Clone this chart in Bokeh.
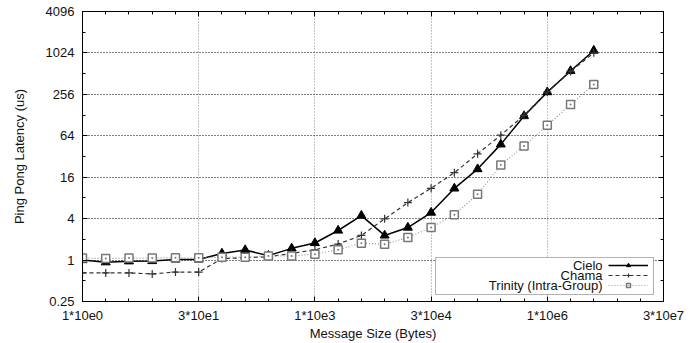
from bokeh.plotting import figure
from bokeh.models import (FixedTicker, LogAxis, Legend, LegendItem, Label,
                          BoxAnnotation, Range1d)
from bokeh.embed import file_html
from bokeh.resources import INLINE
from bokeh.core.properties import value

# ---- data -------------------------------------------------------------
msg_sizes = [1, 2, 4, 8, 16, 32, 64, 128, 256, 512, 1024, 2048, 4096, 8192,
             16384, 32768, 65536, 131072, 262144, 524288, 1048576, 2097152,
             4194304]
cielo = [1.0, 0.93, 0.96, 0.97, 1.02, 1.02, 1.25, 1.4, 1.16, 1.48, 1.77,
         2.69, 4.43, 2.28, 2.97, 4.9, 11.0, 21.0, 48.0, 124.0, 276.0, 560.0,
         1109.0]
chama = [0.65, 0.65, 0.65, 0.63, 0.67, 0.67, 1.05, 1.08, 1.12, 1.25, 1.41,
         1.71, 2.28, 3.97, 6.84, 11.05, 18.6, 35.0, 65.3, 127.0, 276.0, 551.0,
         1030.0]
trinity = [1.07, 1.05, 1.07, 1.07, 1.08, 1.08, 1.1, 1.1, 1.15, 1.15, 1.22,
           1.41, 1.76, 1.7, 2.13, 2.97, 4.54, 9.05, 24.0, 45.5, 91.0, 182.0,
           357.0]
series_names = ["Cielo", "Chama", "Trinity (Intra-Group)"]

x_ticks = [1, 32, 1024, 32768, 1048576, 33554432]
x_tick_labels = ["1*10e0", "3*10e1", "1*10e3", "3*10e4", "1*10e6", "3*10e7"]
x_minor = [2 ** k for k in range(0, 26)]
y_ticks = [0.25, 1, 4, 16, 64, 256, 1024, 4096]
y_tick_labels = ["0.25", "1", "4", "16", "64", "256", "1024", "4096"]
y_minor = [2.0 ** k for k in range(-2, 13)]

FONT = "Liberation Sans"
FS = "13px"

p = figure(width=697, height=343, x_axis_type="log", y_axis_type="log",
           x_range=Range1d(x_ticks[0], x_ticks[-1]),
           y_range=Range1d(y_ticks[0], y_ticks[-1]),
           output_backend="svg", toolbar_location=None,
           min_border_left=82, min_border_right=34, min_border_top=11,
           min_border_bottom=41)
p.background_fill_color = "white"
p.border_fill_color = "white"
p.outline_line_color = "black"
p.outline_line_width = 1

xt = FixedTicker(ticks=x_ticks, minor_ticks=x_minor)
yt = FixedTicker(ticks=y_ticks, minor_ticks=y_minor)

xa = p.xaxis[0]
ya = p.yaxis[0]
xa.ticker = xt
ya.ticker = yt
xa.major_label_overrides = {float(k): v for k, v in zip(x_ticks, x_tick_labels)}
ya.major_label_overrides = {float(k): v for k, v in zip(y_ticks, y_tick_labels)}
xa.axis_label = "Message Size (Bytes)"
ya.axis_label = "Ping Pong Latency (us)"
for ax in (xa, ya):
    ax.axis_line_color = "black"
    ax.major_tick_in = 5
    ax.major_tick_out = 0
    ax.minor_tick_in = 3
    ax.minor_tick_out = 0
    ax.major_tick_line_color = "black"
    ax.minor_tick_line_color = "black"
    ax.major_label_text_font = FONT
    ax.major_label_text_font_size = FS
    ax.major_label_text_color = "#111111"
    ax.axis_label_text_font = FONT
    ax.axis_label_text_font_size = FS
    ax.axis_label_text_font_style = "normal"
    ax.axis_label_text_color = "#111111"
xa.major_label_standoff = 6
xa.axis_label_standoff = 0
ya.major_label_standoff = 8
ya.axis_label_standoff = 16
ya.major_label_orientation = "horizontal"

# mirrored axes (ticks only, labels invisible)
top = LogAxis(ticker=xt)
right = LogAxis(ticker=yt)
for ax in (top, right):
    ax.axis_line_color = "black"
    ax.major_tick_in = 5
    ax.major_tick_out = 0
    ax.minor_tick_in = 3
    ax.minor_tick_out = 0
    ax.major_label_text_font_size = "3px"
    ax.major_label_text_alpha = 0.0
    ax.major_label_standoff = 0
p.add_layout(top, "above")
p.add_layout(right, "right")

p.xgrid.ticker = xt
p.ygrid.ticker = yt
p.xgrid.grid_line_color = "#888888"
p.xgrid.grid_line_dash = "1 2"
p.ygrid.grid_line_color = "#000000"
p.ygrid.grid_line_dash = "1 2"

# ---- series -------------------------------------------------------------
l1 = p.line(msg_sizes, cielo, line_color="black", line_width=1.5)
m1 = p.scatter(msg_sizes, cielo, marker="triangle", size=9,
               fill_color="black", line_color="black")
l2 = p.line(msg_sizes, chama, line_color="#333333", line_width=1.2,
            line_dash="4 3")
m2 = p.scatter(msg_sizes, chama, marker="cross", size=8, line_color="#333333",
               line_width=1.2)
l3 = p.line(msg_sizes, trinity, line_color="#999999", line_width=1.2,
            line_dash="1 2")
m3 = p.scatter(msg_sizes, trinity, marker="square_dot", size=8,
               fill_color="white", line_color="#777777", line_width=1.5)

# ---- legend (gnuplot style: text right-aligned, sample at right) -------
box = BoxAnnotation(left=353, right=571, bottom=7, top=44,
                    left_units="screen", right_units="screen",
                    bottom_units="screen", top_units="screen",
                    fill_color="white", fill_alpha=1.0,
                    line_color="black", line_width=1)
p.add_layout(box)

legend = Legend(items=[LegendItem(label=value("x"), renderers=[l1, m1]),
                       LegendItem(label=value("x"), renderers=[l2, m2]),
                       LegendItem(label=value("x"), renderers=[l3, m3])],
                location=(526, 11), glyph_width=40, glyph_height=10,
                label_height=10, label_width=2, label_standoff=1, spacing=0,
                padding=0, margin=0, border_line_alpha=0,
                background_fill_alpha=0, label_text_font_size="3px",
                label_text_alpha=0.0)
p.add_layout(legend)

for name, yy in zip(series_names, [36, 26, 16]):
    p.add_layout(Label(x=520, y=yy, x_units="screen", y_units="screen",
                       text=name, text_align="right", text_baseline="middle",
                       text_font=FONT, text_font_size=FS,
                       text_color="#111111"))

open("out.html", "w").write(file_html(p, INLINE))
